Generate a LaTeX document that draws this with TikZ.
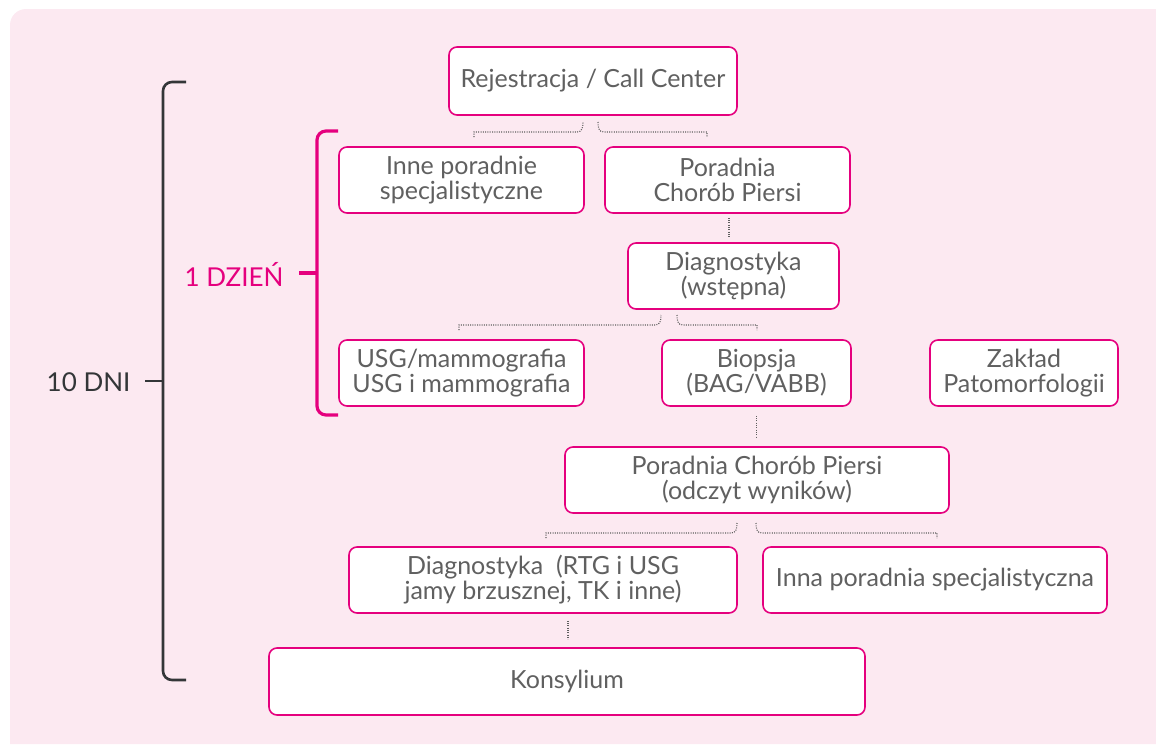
\documentclass[tikz,border=0pt]{standalone}
\usepackage{fontspec}
\setmainfont{Lato}
\usetikzlibrary{positioning, calc}
\definecolor{brand}{RGB}{229, 0, 126}
\definecolor{bgpink}{RGB}{252, 233, 241}
\definecolor{txtgray}{RGB}{96, 96, 96}
\definecolor{darkline}{RGB}{51, 54, 56}
\definecolor{dotgray}{RGB}{95, 95, 95}

\begin{document}
\begin{tikzpicture}[x=1pt, y=-1pt,
    stepbox/.style={rectangle, draw=brand, fill=white, line width=1.6pt, rounded corners=8pt,
        text=txtgray, align=center, font=\fontsize{25}{25}\selectfont, inner sep=0pt},
    fork/.style={draw=dotgray, line width=1.1pt, dash pattern=on 1pt off 1.3pt},
    bracket/.style={line width=2.6pt, rounded corners=9pt}]
            \useasboundingbox (0,0) rectangle (1156,744);
            % Background
            \fill[bgpink] (10,744) [rounded corners=16pt] -- (10,9) [sharp corners] -- (1156,9) -- (1156,744) -- cycle;

            % Boxes
            \node[stepbox, minimum width=288, minimum height=68] (reg) at (593,81) {Rejestracja / Call Center};
            \node[stepbox, minimum width=245, minimum height=66] (inne) at (461.5,180) {Inne poradnie\\specjalistyczne};
            \node[stepbox, minimum width=245, minimum height=66] (pcp) at (727.5,180) {Poradnia\\Chorób Piersi};
            \node[stepbox, minimum width=211, minimum height=66] (diag) at (733.5,276) {Diagnostyka\\(wstępna)};
            \node[stepbox, minimum width=245, minimum height=66] (usg) at (461.5,373) {USG/mammografia\\USG i mammografia};
            \node[stepbox, minimum width=189, minimum height=66] (biop) at (756.5,373) {Biopsja\\(BAG/VABB)};
            \node[stepbox, minimum width=188, minimum height=66] (zaklad) at (1024,373) {Zakład\\Patomorfologii};
            \node[stepbox, minimum width=384, minimum height=66] (odczyt) at (757,480) {Poradnia Chorób Piersi\\(odczyt wyników)};
            \node[stepbox, minimum width=388, minimum height=66] (rtg) at (543,580) {Diagnostyka~ (RTG i USG\\jamy brzusznej, TK i inne)};
            \node[stepbox, minimum width=344, minimum height=66] (inna) at (935,580) {Inna poradnia specjalistyczna};
            \node[stepbox, minimum width=596, minimum height=67] (kons) at (567,681.5) {Konsylium};

            % Forks
            \coordinate (regL) at (583,122);
            \coordinate (regR) at (598,122);
            \draw[fork] (474,137) -- (474,132) -- (577,132) .. controls (582,132) and (583,128) .. (regL);
            \draw[fork] (regR) .. controls (598,128) and (599,132) .. (604,132) -- (707,132) -- (707,137);

            \coordinate (diagL) at (661,315);
            \coordinate (diagR) at (677,315);
            \draw[fork] (459,330) -- (459,325) -- (655,325) .. controls (660,325) and (661,321) .. (diagL);
            \draw[fork] (diagR) .. controls (677,321) and (678,325) .. (683,325) -- (757,325) -- (757,330);

            \coordinate (odczytL) at (737,523);
            \coordinate (odczytR) at (756,523);
            \draw[fork] (546,538) -- (546,533) -- (731,533) .. controls (736,533) and (737,529) .. (odczytL);
            \draw[fork] (odczytR) .. controls (756,529) and (757,533) .. (762,533) -- (937,533) -- (937,538);

            % Straight links
            \draw[fork] ([xshift=1.5pt, yshift=-4pt]pcp.south) -- ([xshift=1.5pt, yshift=4pt]pcp.south |- diag.north);
            \draw[fork] ([yshift=-9pt]biop.south) -- ([yshift=9pt]biop.south |- odczyt.north);
            \draw[fork] ([xshift=25pt, yshift=-7pt]rtg.south) -- ([xshift=25pt, yshift=8pt]rtg.south |- kons.north);

            % Brackets
            \draw[bracket, darkline] (186,82) -- (163,82) -- (163,680) -- (186,680);
            \draw[line width=2.6pt, darkline] (145,381) -- (163,381);
            \node[anchor=east, text=darkline, font=\fontsize{26}{26}\selectfont] (tendays) at (134,382) {10 DNI};

            \draw[bracket, brand, line width=3.2pt] (338,131) -- (317,131) -- (317,415) -- (338,415);
            \draw[line width=3.2pt, brand] (299,273) -- (317,273);
            \node[anchor=east, text=brand, font=\fontsize{26}{26}\selectfont] (oneday) at (287,274) {1 DZIEŃ};
        \end{tikzpicture}
\end{document}
